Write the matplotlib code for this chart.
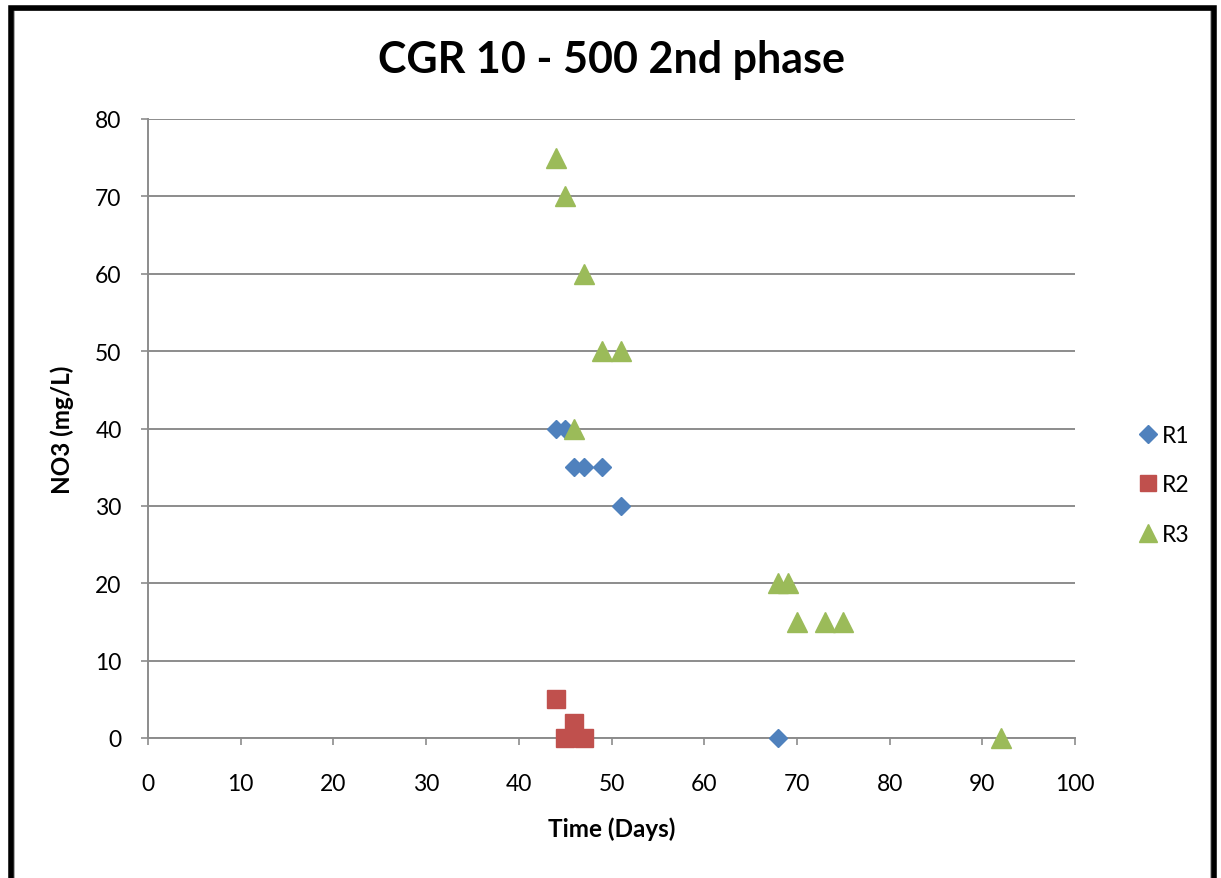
import matplotlib
matplotlib.use("Agg")
import matplotlib.pyplot as plt
from matplotlib.patches import Rectangle
from matplotlib.lines import Line2D

plt.rcParams['font.family'] = ['Lato', 'DejaVu Sans']

# NO3 concentrations per reactor over time
r1_days = [44, 45, 46, 47, 49, 51, 68]
r1_no3 = [40, 40, 35, 35, 35, 30, 0]

r2_days = [44, 45, 46, 47]
r2_no3 = [5, 0, 2, 0]

r3_days = [44, 45, 46, 47, 49, 51, 68, 69, 70, 73, 75, 92]
r3_no3 = [75, 70, 40, 60, 50, 50, 20, 20, 15, 15, 15, 0]

x_ticks = [0, 10, 20, 30, 40, 50, 60, 70, 80, 90, 100]
y_ticks = [0, 10, 20, 30, 40, 50, 60, 70, 80]

W, H = 1221, 879
fig = plt.figure(figsize=(W / 100, H / 100), dpi=100)

ax = fig.add_axes([148 / W, 1 - 739 / H, (1075 - 148) / W, (739 - 120) / H])

grid_c = '#8c8c8c'
ax.set_xlim(0, 100)
ax.set_ylim(0, 80)
ax.set_xticks(x_ticks)
ax.set_yticks(y_ticks)
ax.grid(axis='y', color=grid_c, linewidth=1.4)
ax.set_axisbelow(True)
for s in ('top', 'right'):
    ax.spines[s].set_visible(False)
for s in ('left', 'bottom'):
    ax.spines[s].set_color(grid_c)
    ax.spines[s].set_linewidth(1.4)
ax.tick_params(axis='both', colors=grid_c, labelcolor='black', labelsize=16.5,
               length=5, width=1.2, direction='out')
ax.tick_params(axis='x', pad=20)
ax.tick_params(axis='y', pad=14)

blue, red, green = '#4F81BD', '#C0504D', '#9BBB59'
ax.plot(r1_days, r1_no3, linestyle='none', marker='D', ms=9.5, color=blue,
        mec=blue, label='R1', clip_on=False, zorder=3)
ax.plot(r2_days, r2_no3, linestyle='none', marker='s', ms=13, color=red,
        mec=red, label='R2', clip_on=False, zorder=3)
ax.plot(r3_days, r3_no3, linestyle='none', marker='^', ms=14, color=green,
        mec=green, label='R3', clip_on=False, zorder=3)

ax.set_xlabel('Time (Days)', fontsize=17.5, fontweight='bold', labelpad=16)
ax.set_ylabel('NO3 (mg/L)', fontsize=17.5, fontweight='bold', labelpad=15)

fig.text(611 / W, 1 - 60 / H, 'CGR 10 - 500 2nd phase', ha='center', va='center',
         fontsize=31, fontweight='bold')

handles = [
    Line2D([], [], linestyle='none', marker='D', ms=9, color=blue),
    Line2D([], [], linestyle='none', marker='s', ms=12, color=red),
    Line2D([], [], linestyle='none', marker='^', ms=13, color=green),
]
fig.legend(handles, ['R1', 'R2', 'R3'], loc='center left',
           bbox_to_anchor=(1127 / W, 1 - 486 / H), frameon=False, fontsize=16.5,
           handlelength=0.8, handletextpad=0.2, labelspacing=1.25, borderpad=0)

# outer frame
fig.patches.append(Rectangle((13.5 / W, -0.05), (1211 - 13.5) / W, 1.05 - 11 / H,
                             transform=fig.transFigure, fill=False,
                             edgecolor='#a0a0a0', linewidth=1.2))
fig.patches.append(Rectangle((10.5 / W, -0.05), (1214 - 10.5) / W, 1.05 - 9 / H,
                             transform=fig.transFigure, fill=False,
                             edgecolor='black', linewidth=4))

fig.savefig('out.png', dpi=100)
